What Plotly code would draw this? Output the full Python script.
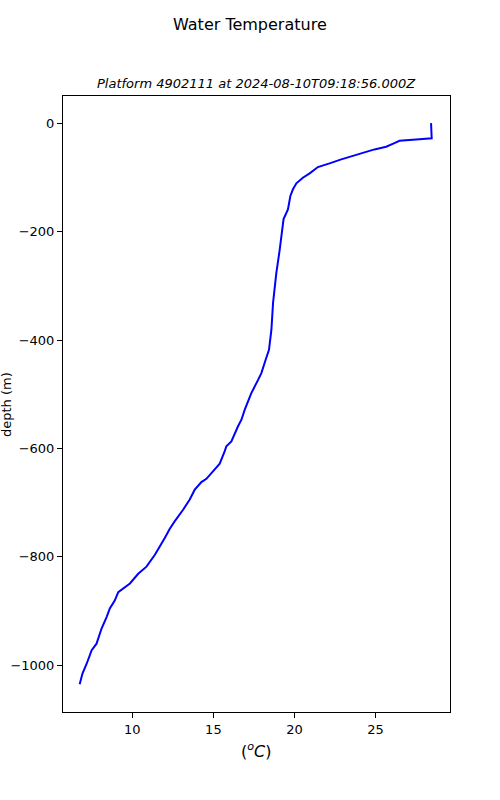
import plotly.graph_objects as go

temperature = [28.43, 28.47, 27.51, 26.48, 26.17, 25.66, 24.94, 24.43, 23.81, 22.89,
               22.17, 21.45, 20.94, 20.52, 20.12, 19.91, 19.75, 19.60, 19.33, 19.23,
               19.13, 19.09, 18.88, 18.68, 18.58, 18.43, 18.23, 17.96, 17.75, 17.34,
               16.93, 16.73, 16.52, 16.11, 15.80, 15.70, 15.39, 14.98, 14.57, 14.26,
               13.85, 13.54, 13.13, 12.62, 12.31, 12.00, 11.69, 11.39, 10.87, 10.36,
               9.85, 9.13, 8.92, 8.61, 8.41, 8.10, 7.79, 7.49, 7.18, 6.92, 6.75]
depth = [0, -28, -30, -32.6, -36.8, -43.6, -48.5, -52.8, -58.9, -66.9,
         -74.3, -81, -92.7, -100.7, -111, -122, -134.4, -159, -177, -197,
         -223, -234, -277, -332, -381, -418, -436, -461, -474, -498,
         -529, -547, -559, -587, -596, -605, -628, -642, -656, -662,
         -676, -694, -713, -734, -748, -765, -780, -796, -818, -831,
         -849, -865, -880, -895, -911, -932, -960, -972, -997, -1015, -1035]

x_ticks = [10, 15, 20, 25]
y_ticks = [0, -200, -400, -600, -800, -1000]

W, H = 500, 800
L, R, T, B = 63, 50, 96, 88
pw, ph = W - L - R, H - T - B

fig = go.Figure()
fig.add_trace(go.Scatter(x=temperature, y=depth, mode="lines",
                         line=dict(color="blue", width=2), showlegend=False))

font = "DejaVu Sans"
fig.update_layout(
    width=W, height=H,
    paper_bgcolor="white", plot_bgcolor="white",
    margin=dict(l=L, r=R, t=T, b=B, autoexpand=False),
    font=dict(family=font, size=13, color="black"),
    annotations=[
        dict(text="Water Temperature", x=(250 - L) / pw, y=1 + (T - 24) / ph,
             xref="paper", yref="paper", xanchor="center", yanchor="middle",
             showarrow=False, font=dict(size=16)),
        dict(text="<i>Platform 4902111 at 2024-08-10T09:18:56.000Z</i>",
             x=0.5, y=1 + (T - 83) / ph, xref="paper", yref="paper",
             xanchor="center", yanchor="middle", showarrow=False,
             font=dict(size=13)),
        dict(text="depth (m)", x=-(L - 6) / pw, y=0.5, xref="paper", yref="paper",
             xanchor="center", yanchor="middle", textangle=-90, showarrow=False,
             font=dict(size=13)),
        dict(text="(<sup><i>o</i></sup><i>C</i>)", x=(256 - L) / pw,
             y=-(750 - (H - B)) / ph, xref="paper", yref="paper",
             xanchor="center", yanchor="middle", showarrow=False,
             font=dict(size=16)),
    ],
)

fig.update_xaxes(range=[5.72, 29.6], tickvals=x_ticks, ticks="outside", ticklen=5,
                 tickcolor="black", showline=True, linecolor="black", linewidth=1,
                 mirror=True, showgrid=False, zeroline=False, automargin=False)
fig.update_yaxes(range=[-1086, 50], tickvals=y_ticks, ticks="outside", ticklen=5,
                 tickcolor="black", showline=True, linecolor="black", linewidth=1,
                 mirror=True, showgrid=False, zeroline=False, automargin=False)

fig.write_html("out.html", config={"displayModeBar": False},
               post_script="document.body.style.margin='0';document.body.style.overflow='hidden';")
